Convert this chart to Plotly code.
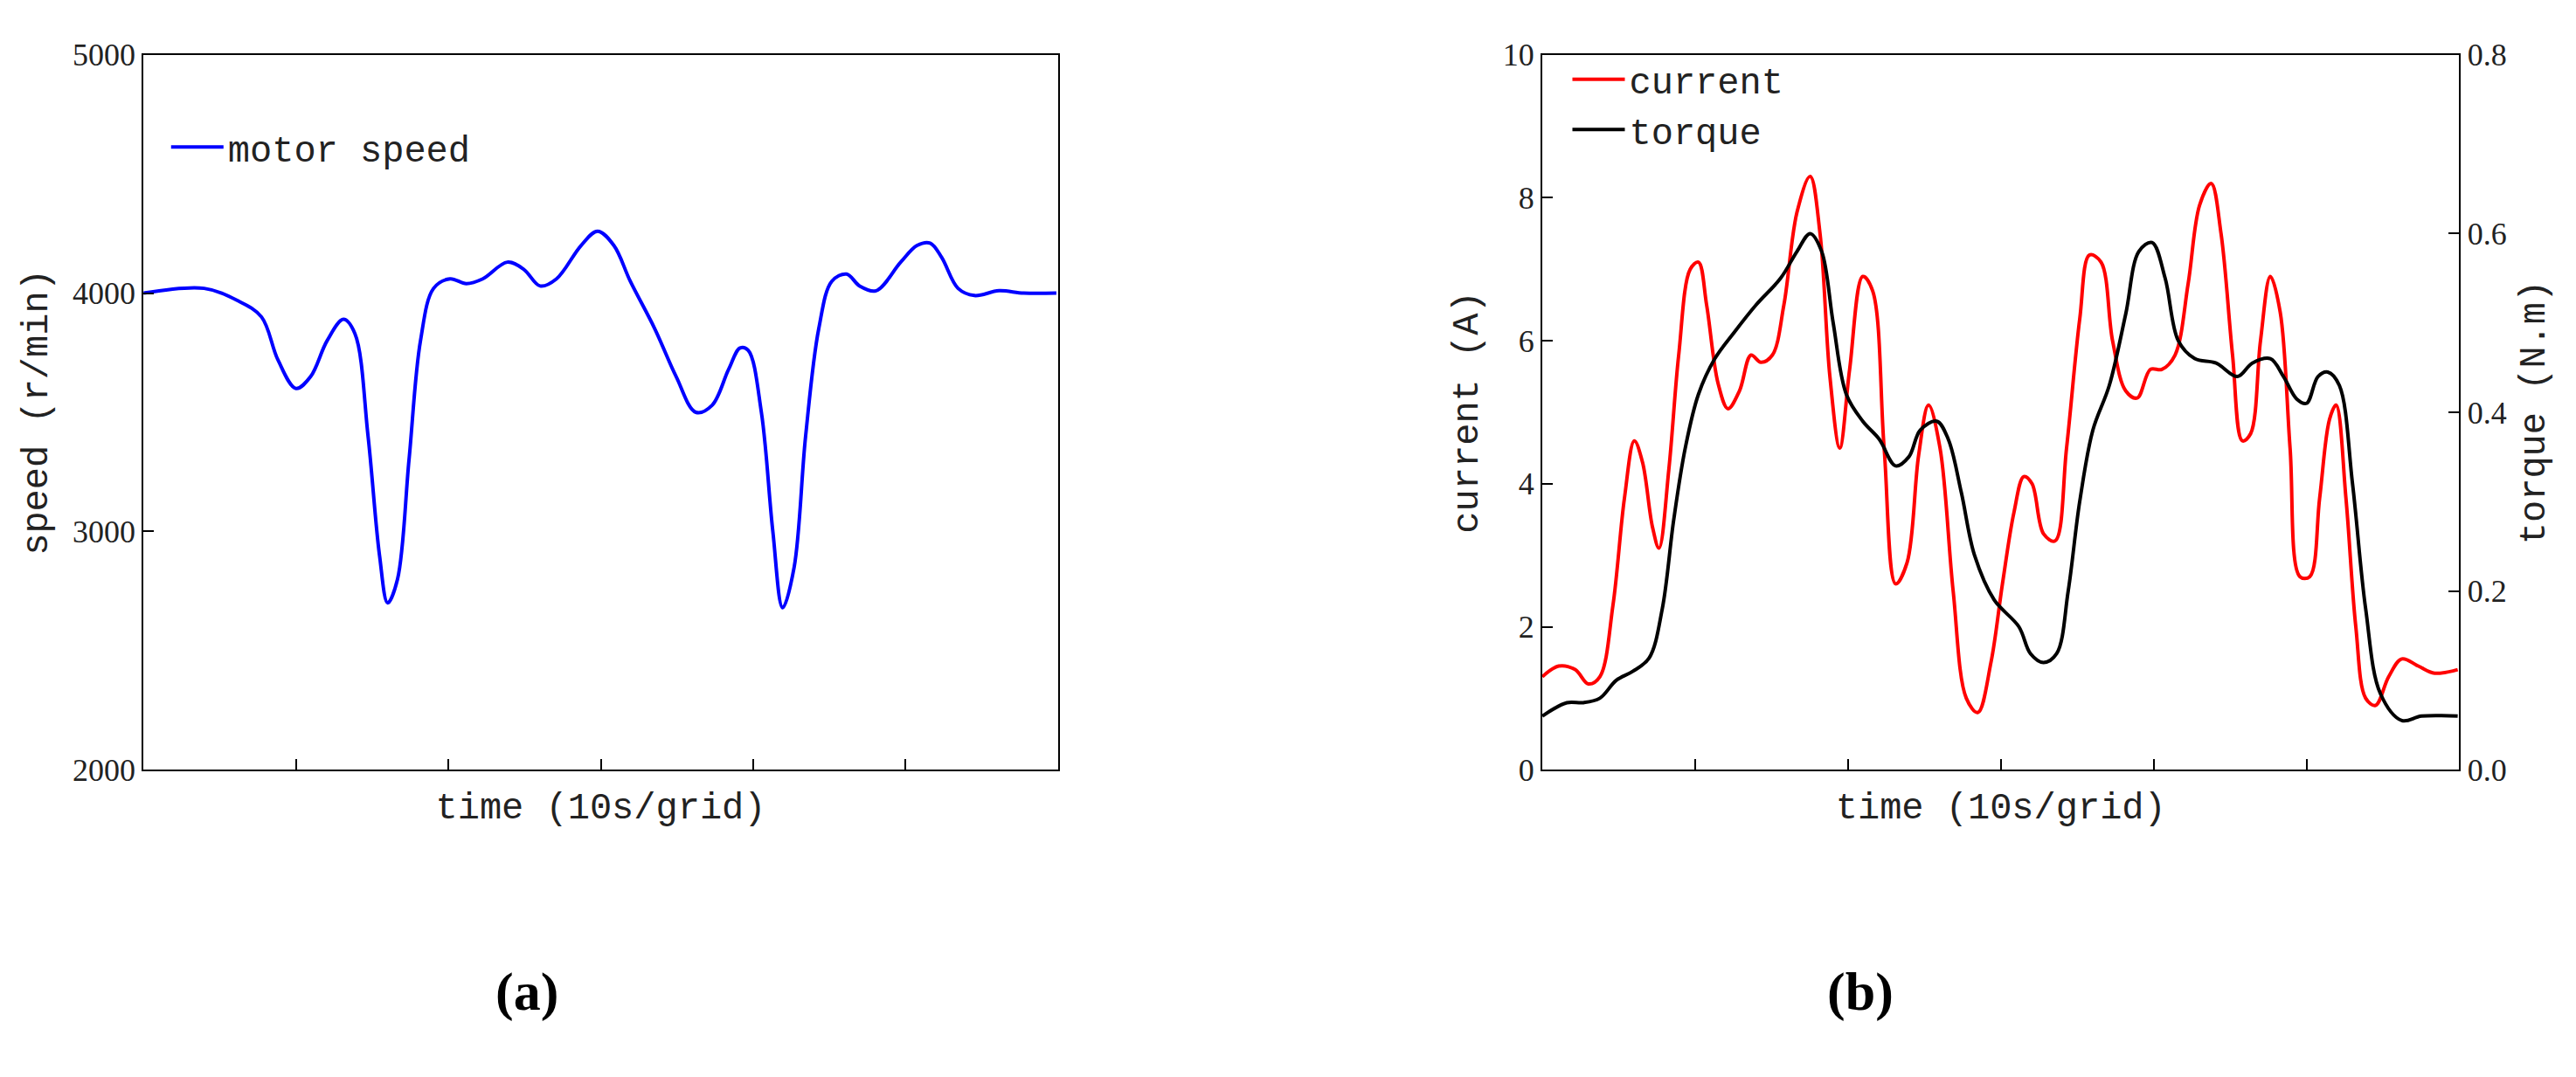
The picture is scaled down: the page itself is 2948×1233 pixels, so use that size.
import plotly.graph_objects as go

# ---- data (x in grid units, 10 s per grid) ----
speed_px = [83,120,140,155,165,176,185,195,205,212,220,227,232,238,245,252,260,270,280,290,305,315,325,335,350,360,370,380,395,408,420,430,440,447,452,460,467,473,480,487,495,503,512,520,530,545,555,563,570,580,590,605,620,640]
speed = [4000,4020,3970,3900,3720,3600,3650,3800,3890,3830,3400,2900,2700,2800,3300,3800,4020,4060,4040,4060,4130,4100,4030,4060,4200,4260,4200,4050,3850,3650,3500,3530,3680,3770,3760,3500,3000,2680,2850,3400,3850,4050,4080,4030,4010,4130,4200,4210,4150,4020,3990,4010,4000,4000]
speed_t = [(p-83)/93 for p in speed_px]

cur_px = [935,945,955,963,970,978,985,991,996,1002,1006,1012,1018,1025,1030,1035,1042,1048,1055,1062,1068,1075,1082,1090,1098,1104,1110,1116,1122,1130,1136,1143,1150,1157,1164,1170,1177,1185,1193,1200,1208,1215,1222,1228,1233,1240,1247,1254,1262,1268,1275,1282,1290,1297,1305,1312,1320,1328,1335,1342,1348,1355,1361,1366,1372,1378,1384,1390,1396,1402,1408,1414,1418,1424,1430,1436,1442,1450,1458,1468,1478,1492]
current = [1.3,1.45,1.4,1.2,1.3,2.3,3.8,4.6,4.3,3.4,3.1,4.2,5.8,7.0,7.1,6.5,5.4,5.05,5.3,5.8,5.7,5.8,6.5,7.8,8.3,7.5,5.5,4.5,5.6,6.9,6.7,4.5,2.6,2.9,4.4,5.1,4.5,2.5,1.0,0.8,1.5,2.6,3.6,4.1,4.0,3.3,3.2,4.5,6.3,7.2,7.1,6.0,5.3,5.2,5.6,5.6,5.8,6.8,7.9,8.2,7.5,5.8,4.6,4.7,6.0,6.9,6.4,4.5,2.7,2.7,3.8,4.9,5.1,3.8,2.0,1.0,0.9,1.3,1.55,1.45,1.35,1.4]
cur_t = [(p-935)/93 for p in cur_px]

tq_px = [935,950,960,970,980,990,1000,1008,1015,1022,1030,1040,1052,1065,1080,1090,1098,1105,1112,1120,1130,1140,1150,1158,1165,1175,1182,1190,1198,1210,1225,1232,1240,1248,1255,1262,1270,1280,1290,1298,1306,1314,1322,1332,1345,1358,1367,1378,1386,1394,1400,1407,1413,1420,1428,1436,1445,1458,1470,1492]
torque = [0.06,0.075,0.075,0.08,0.1,0.11,0.125,0.18,0.28,0.36,0.42,0.46,0.49,0.52,0.55,0.58,0.60,0.58,0.50,0.42,0.39,0.37,0.34,0.35,0.38,0.39,0.37,0.31,0.24,0.19,0.16,0.13,0.12,0.13,0.2,0.3,0.38,0.43,0.51,0.58,0.59,0.55,0.48,0.46,0.455,0.44,0.455,0.46,0.44,0.415,0.41,0.44,0.445,0.43,0.32,0.18,0.085,0.055,0.06,0.06]
tq_t = [(p-935)/93 for p in tq_px]

F = "Liberation Mono"
TF = "Liberation Serif"
fig = go.Figure()
fig.add_trace(go.Scatter(x=speed_t, y=speed, mode="lines", line=dict(color="#0000ff", width=4, shape="spline"),
                         name="motor speed", xaxis="x", yaxis="y", legend="legend", showlegend=True))
fig.add_trace(go.Scatter(x=cur_t, y=current, mode="lines", line=dict(color="#ff0000", width=4, shape="spline"),
                         name="current", xaxis="x2", yaxis="y2", legend="legend2", showlegend=True))
fig.add_trace(go.Scatter(x=tq_t, y=torque, mode="lines", line=dict(color="#000000", width=4, shape="spline"),
                         name="torque", xaxis="x2", yaxis="y3", legend="legend2", showlegend=True))

ax = dict(showgrid=False, zeroline=False, showline=True, linecolor="black", linewidth=2, mirror=True,
          ticks="inside", ticklen=12, tickwidth=2, tickcolor="black", tickfont=dict(family=TF, size=36, color="#222"))
xax = dict(ax, range=[0, 6], tickvals=[1, 2, 3, 4, 5], showticklabels=False,
           title=dict(text="time (10s/grid)", font=dict(family=F, size=42, color="#222"), standoff=25))
fig.update_layout(
    width=2948, height=1233, paper_bgcolor="white", plot_bgcolor="white",
    margin=dict(l=0, r=0, t=0, b=0), showlegend=True,
    xaxis=dict(xax, domain=[0.053, 0.408], anchor="y"),
    yaxis=dict(ax, range=[2000, 5000], tickvals=[2000, 3000, 4000, 5000], domain=[0.284, 0.97], anchor="x",
               title=dict(text="speed (r/min)", font=dict(family=F, size=42, color="#222"))),
    xaxis2=dict(xax, domain=[0.596, 0.952], anchor="y2"),
    yaxis2=dict(ax, range=[0, 10], tickvals=[0, 2, 4, 6, 8, 10], domain=[0.284, 0.97], anchor="x2", mirror=False,
                title=dict(text="current (A)", font=dict(family=F, size=42, color="#222"))),
    yaxis3=dict(ax, range=[0, 0.8], tickvals=[0, 0.2, 0.4, 0.6, 0.8], tickformat=".1f", overlaying="y2",
                side="right", anchor="x2", mirror=False,
                title=dict(text="torque (N.m)", font=dict(family=F, size=42, color="#222"))),
    legend=dict(x=0.062, y=0.91, xanchor="left", yanchor="top", bgcolor="rgba(0,0,0,0)",
                font=dict(family=F, size=42, color="#222"), itemwidth=60),
    legend2=dict(x=0.606, y=0.975, xanchor="left", yanchor="top", bgcolor="rgba(0,0,0,0)",
                 font=dict(family=F, size=42, color="#222"), tracegroupgap=0, itemwidth=60),
    annotations=[
        dict(text="<b>(a)</b>", x=0.189, y=0.04, xref="paper", yref="paper", showarrow=False,
             font=dict(family=TF, size=62, color="black")),
        dict(text="<b>(b)</b>", x=0.733, y=0.04, xref="paper", yref="paper", showarrow=False,
             font=dict(family=TF, size=62, color="black")),
    ],
)
fig.write_html("out.html")
